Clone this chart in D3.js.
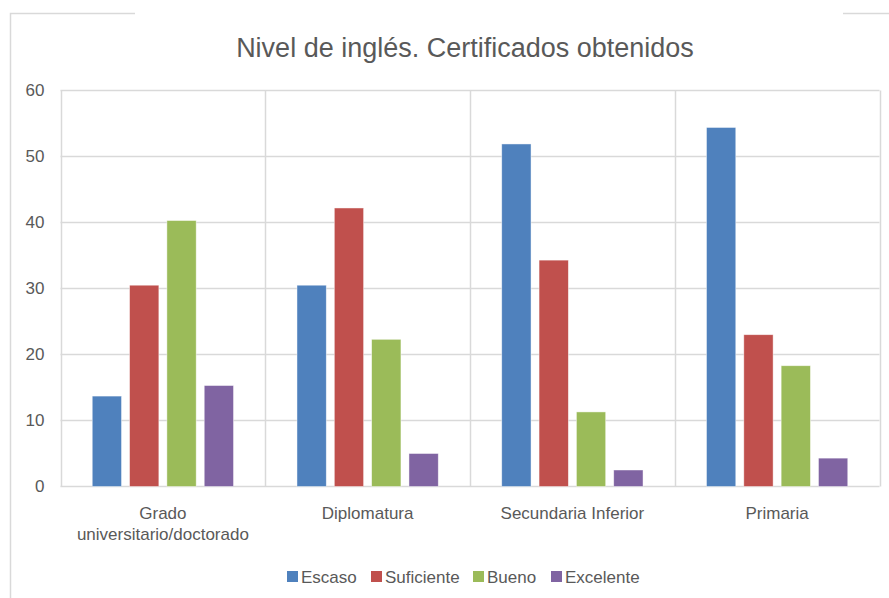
<!DOCTYPE html>
<html>
<head>
<meta charset="utf-8">
<script src="https://cdn.jsdelivr.net/npm/d3@7"></script>
<style>
  body { margin: 0; background: #fff; }
  svg { display: block; font-family: "Liberation Sans", Arial, sans-serif; }
</style>
</head>
<body>
<div id="chart"></div>
<script>
const categories = ['Grado\nuniversitario/doctorado', 'Diplomatura', 'Secundaria Inferior', 'Primaria'];
const seriesNames = ['Escaso', 'Suficiente', 'Bueno', 'Excelente'];
const seriesColors = ['#4f81bd', '#c0504d', '#9bbb59', '#8064a2'];
const escaso = [13.7, 30.5, 51.9, 54.4];
const suficiente = [30.5, 42.2, 34.3, 23.0];
const bueno = [40.3, 22.3, 11.3, 18.3];
const excelente = [15.3, 5.0, 2.5, 4.3];
const yTicks = [0, 10, 20, 30, 40, 50, 60];

const seriesValues = [escaso, suficiente, bueno, excelente];

const width = 889, height = 598;
const margin = {top: 90.5, right: 9.5, bottom: 111.5, left: 60.5};

const svg = d3.select('#chart').append('svg')
  .attr('width', width)
  .attr('height', height);

// outer chart frame (partially visible)
const frame = svg.append('g').attr('stroke', '#d9d9d9').attr('stroke-width', 1.5).attr('fill', 'none');
frame.append('path').attr('d', 'M10.5,598 V13.5 H135');
frame.append('path').attr('d', 'M843,13.5 H889');

svg.append('text')
  .attr('x', 465)
  .attr('y', 57)
  .attr('text-anchor', 'middle')
  .attr('fill', '#595959')
  .attr('font-size', 27)
  .text('Nivel de inglés. Certificados obtenidos');

const x0 = d3.scaleBand()
  .domain(categories)
  .range([margin.left, width - margin.right]);

const x1 = d3.scaleBand()
  .domain(seriesNames)
  .range([0, x0.bandwidth()])
  .paddingInner(0.215)
  .paddingOuter(0.85);

const y = d3.scaleLinear()
  .domain([0, 60])
  .range([height - margin.bottom, margin.top]);

// horizontal gridlines
svg.append('g')
  .selectAll('line')
  .data(yTicks)
  .join('line')
  .attr('x1', margin.left)
  .attr('x2', width - margin.right)
  .attr('y1', d => y(d))
  .attr('y2', d => y(d))
  .attr('stroke', '#d9d9d9')
  .attr('stroke-width', 1.5);

// vertical gridlines between categories
const vlines = categories.map(c => x0(c)).concat([x0.range()[1]]);
svg.append('g')
  .selectAll('line')
  .data(vlines)
  .join('line')
  .attr('x1', d => Math.round(d) + 0.5)
  .attr('x2', d => Math.round(d) + 0.5)
  .attr('y1', y(60))
  .attr('y2', y(0))
  .attr('stroke', '#d9d9d9')
  .attr('stroke-width', 1.5);

// y axis labels
const yAxis = d3.axisLeft(y).tickValues(yTicks).tickSize(0).tickPadding(16);
svg.append('g')
  .attr('transform', `translate(${margin.left},0)`)
  .call(yAxis)
  .call(g => g.select('.domain').remove())
  .call(g => g.selectAll('text')
    .attr('fill', '#595959')
    .attr('font-size', 17)
    .attr('font-family', '"Liberation Sans", Arial, sans-serif'));

// bars
const groups = svg.append('g')
  .selectAll('g')
  .data(categories)
  .join('g')
  .attr('transform', d => `translate(${x0(d)},0)`);

groups.selectAll('rect')
  .data((c, i) => seriesNames.map((s, j) => ({series: s, color: seriesColors[j], value: seriesValues[j][i]})))
  .join('rect')
  .attr('x', d => x1(d.series))
  .attr('width', x1.bandwidth())
  .attr('y', d => y(d.value))
  .attr('height', d => y(0) - y(d.value))
  .attr('fill', d => d.color)
  .attr('stroke', '#ffffff')
  .attr('stroke-opacity', 0.6)
  .attr('stroke-width', 0.75);

// category labels
svg.append('g')
  .selectAll('text')
  .data(categories)
  .join('text')
  .attr('x', d => x0(d) + x0.bandwidth() / 2)
  .attr('y', y(0) + 32)
  .attr('text-anchor', 'middle')
  .attr('fill', '#595959')
  .attr('font-size', 17)
  .selectAll('tspan')
  .data(d => d.split('\n'))
  .join('tspan')
  .attr('x', function() { return d3.select(this.parentNode).attr('x'); })
  .attr('dy', (d, i) => i === 0 ? 0 : 21)
  .text(d => d);

// legend
const legendPos = [287, 371, 473, 551];
const legend = svg.append('g')
  .attr('transform', 'translate(0,583)');

seriesNames.forEach((name, i) => {
  const item = legend.append('g').attr('transform', `translate(${legendPos[i]},0)`);
  item.append('rect')
    .attr('x', 0)
    .attr('y', -12)
    .attr('width', 11)
    .attr('height', 11)
    .attr('fill', seriesColors[i]);
  item.append('text')
    .attr('x', 14)
    .attr('y', 0)
    .attr('fill', '#595959')
    .attr('font-size', 17)
    .text(name);
});
</script>
</body>
</html>
